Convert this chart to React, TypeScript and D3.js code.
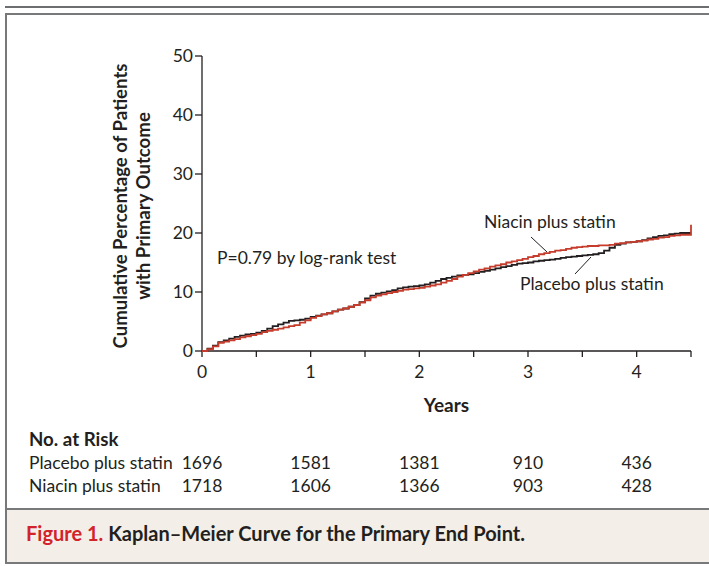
import * as d3 from "d3";

// Kaplan–Meier estimates (%), every 0.05 year
const years = [0, 0.05, 0.1, 0.15, 0.2, 0.25, 0.3, 0.35, 0.4, 0.45, 0.5, 0.55, 0.6, 0.65, 0.7, 0.75, 0.8, 0.85, 0.9, 0.95, 1.0, 1.05, 1.1, 1.15, 1.2, 1.25, 1.3, 1.35, 1.4, 1.45, 1.5, 1.55, 1.6, 1.65, 1.7, 1.75, 1.8, 1.85, 1.9, 1.95, 2.0, 2.05, 2.1, 2.15, 2.2, 2.25, 2.3, 2.35, 2.4, 2.45, 2.5, 2.55, 2.6, 2.65, 2.7, 2.75, 2.8, 2.85, 2.9, 2.95, 3.0, 3.05, 3.1, 3.15, 3.2, 3.25, 3.3, 3.35, 3.4, 3.45, 3.5, 3.55, 3.6, 3.65, 3.7, 3.75, 3.8, 3.85, 3.9, 3.95, 4.0, 4.05, 4.1, 4.15, 4.2, 4.25, 4.3, 4.35, 4.4, 4.45, 4.5];
const placebo = [0, 0.4, 0.9, 1.5, 1.8, 2.1, 2.4, 2.6, 2.8, 2.9, 3.1, 3.4, 3.8, 4.2, 4.5, 4.8, 5.1, 5.2, 5.3, 5.5, 5.8, 6.0, 6.2, 6.4, 6.7, 7.0, 7.2, 7.5, 7.8, 8.3, 8.9, 9.4, 9.7, 9.9, 10.1, 10.3, 10.6, 10.8, 10.9, 11.0, 11.1, 11.3, 11.6, 11.9, 12.2, 12.4, 12.6, 12.8, 12.9, 13.0, 13.2, 13.4, 13.6, 13.8, 14.0, 14.2, 14.4, 14.6, 14.8, 14.9, 15.0, 15.2, 15.3, 15.4, 15.5, 15.6, 15.8, 15.9, 16.0, 16.1, 16.2, 16.3, 16.4, 16.6, 17.0, 17.5, 18.0, 18.2, 18.4, 18.5, 18.6, 18.8, 19.1, 19.3, 19.5, 19.6, 19.8, 19.9, 20.0, 20.0, 20.0];
const niacin = [0, 0.3, 0.8, 1.4, 1.6, 1.8, 2.0, 2.3, 2.5, 2.7, 2.9, 3.2, 3.4, 3.6, 3.8, 4.0, 4.2, 4.4, 4.8, 5.2, 5.6, 5.9, 6.2, 6.4, 6.7, 7.0, 7.2, 7.5, 7.8, 8.2, 8.6, 9.1, 9.4, 9.6, 9.8, 10.0, 10.2, 10.4, 10.5, 10.6, 10.7, 10.9, 11.1, 11.3, 11.6, 11.9, 12.2, 12.6, 12.9, 13.2, 13.5, 13.8, 14.0, 14.3, 14.5, 14.7, 15.0, 15.2, 15.4, 15.6, 15.9, 16.1, 16.4, 16.6, 16.8, 17.0, 17.1, 17.3, 17.5, 17.6, 17.7, 17.8, 17.8, 17.9, 17.9, 18.0, 18.2, 18.3, 18.4, 18.5, 18.6, 18.7, 18.9, 19.0, 19.2, 19.3, 19.5, 19.6, 19.7, 19.7, 19.8];
// last event in the niacin group at the end of follow-up
const niacinTail = { year: 4.5, value: 21.4 };

const yTicks = [0, 10, 20, 30, 40, 50];
const xTicks = [0, 1, 2, 3, 4];
const xMinorTicks = [0.5, 1.5, 2.5, 3.5, 4.5];

const riskLabels = ["Placebo plus statin", "Niacin plus statin"];
const riskPlacebo = [1696, 1581, 1381, 910, 436];
const riskNiacin = [1718, 1606, 1366, 903, 428];

const FONT = "Lato, 'Open Sans', sans-serif";
const BLACK = "#231f20";
const RED = "#c63c2c";
const FS = 17.5;

export default function App() {
  const x = d3.scaleLinear().domain([0, 4.5]).range([202, 691]);
  const y = d3.scaleLinear().domain([0, 50]).range([351, 56]);

  const line = d3
    .line<[number, number]>()
    .x((d) => x(d[0]))
    .y((d) => y(d[1]))
    .curve(d3.curveStepAfter);

  const placeboPath = line(years.map((t, i) => [t, placebo[i]] as [number, number])) || "";
  const niacinPts = years.map((t, i) => [t, niacin[i]] as [number, number]);
  niacinPts.push([niacinTail.year, niacinTail.value]);
  const niacinPath = line(niacinPts) || "";

  const riskRows = [riskPlacebo, riskNiacin];

  return (
    <svg
      width={709}
      height={566}
      style={{ position: "absolute", left: 0, top: 0, background: "#fff" }}
      fontFamily={FONT}
    >
      {/* frame */}
      <line x1={5} x2={709} y1={7} y2={7} stroke="#6d6e70" strokeWidth={2} />
      <rect x={6} y={14} width={710} height={549} fill="#fff" stroke="#77787a" strokeWidth={2} />
      <rect x={7} y={510} width={708} height={52} fill="#f3efe8" />
      <line x1={6} x2={709} y1={509} y2={509} stroke="#77787a" strokeWidth={2} />

      {/* y axis */}
      <line x1={202} x2={202} y1={y(50)} y2={y(0)} stroke={BLACK} strokeWidth={1.3} />
      {yTicks.map((t) => (
        <g key={"y" + t}>
          <line x1={195} x2={202} y1={y(t)} y2={y(t)} stroke={BLACK} strokeWidth={1.3} />
          <text x={193} y={y(t) + 6} textAnchor="end" fontSize={FS} fill={BLACK}>
            {t}
          </text>
        </g>
      ))}
      <text
        transform={`translate(127,206) rotate(-90)`}
        textAnchor="middle"
        fontSize={18.6}
        fontWeight="bold"
        fill={BLACK}
      >
        <tspan x={0} dy={0}>Cumulative Percentage of Patients</tspan>
        <tspan x={0} dy={23}>with Primary Outcome</tspan>
      </text>

      {/* x axis */}
      <line x1={x(0)} x2={x(4.5)} y1={y(0)} y2={y(0)} stroke={BLACK} strokeWidth={1.3} />
      {xTicks.concat(xMinorTicks).map((t) => (
        <line key={"xt" + t} x1={x(t)} x2={x(t)} y1={y(0)} y2={y(0) + 6} stroke={BLACK} strokeWidth={1.3} />
      ))}
      {xTicks.map((t) => (
        <text key={"xl" + t} x={x(t)} y={378} textAnchor="middle" fontSize={FS} fill={BLACK}>
          {t}
        </text>
      ))}
      <text x={x(2.25)} y={412} textAnchor="middle" fontSize={19} fontWeight="bold" fill={BLACK}>
        Years
      </text>

      {/* curves */}
      <path d={placeboPath} fill="none" stroke={BLACK} strokeWidth={1.8} />
      <path d={niacinPath} fill="none" stroke={RED} strokeWidth={1.8} />

      {/* annotations */}
      <text x={217} y={264} fontSize={FS} fill={BLACK}>
        P=0.79 by log-rank test
      </text>
      <text x={484} y={228} fontSize={FS} fill={BLACK}>
        Niacin plus statin
      </text>
      <line x1={531} x2={547} y1={237} y2={252} stroke={BLACK} strokeWidth={1} />
      <text x={520} y={290} fontSize={FS} fill={BLACK}>
        Placebo plus statin
      </text>
      <line x1={575} x2={591} y1={274} y2={257} stroke={BLACK} strokeWidth={1} />

      {/* number at risk */}
      <text x={29} y={446} fontSize={18.7} fontWeight="bold" fill={BLACK}>
        No. at Risk
      </text>
      {riskLabels.map((label, r) => (
        <g key={label}>
          <text x={29} y={469 + r * 23} fontSize={FS} fill={BLACK}>
            {label}
          </text>
          {riskRows[r].map((n, i) => (
            <text key={i} x={x(xTicks[i])} y={469 + r * 23} textAnchor="middle" fontSize={FS} fill={BLACK}>
              {n}
            </text>
          ))}
        </g>
      ))}

      {/* caption */}
      <text x={26} y={541} fontSize={20} fontWeight="bold" fill={BLACK}>
        <tspan fill="#d2232a">Figure 1.</tspan> Kaplan–Meier Curve for the Primary End Point.
      </text>
    </svg>
  );
}
